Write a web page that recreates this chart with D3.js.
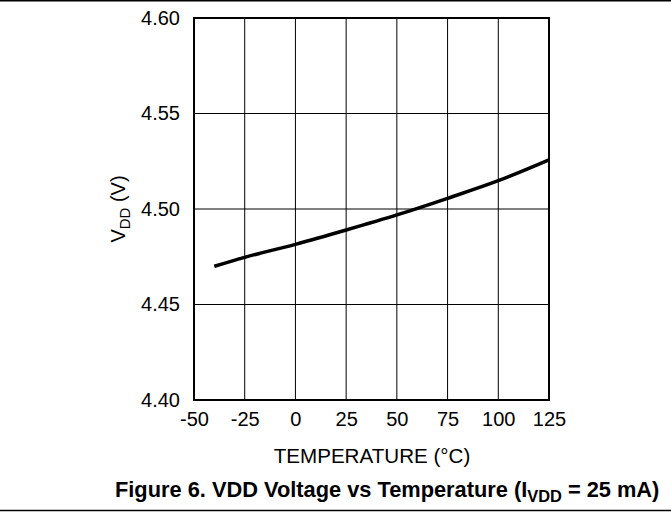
<!DOCTYPE html>
<html><head><meta charset="utf-8">
<script src="https://cdn.jsdelivr.net/npm/d3@7"></script>
<style>body{margin:0;background:#fff}svg{display:block}text{font-family:"Liberation Sans",Arial,sans-serif;fill:#000}</style>
</head><body>
<svg id="c" width="671" height="516"></svg>
<script>
const temps = [-40, -25, 0, 25, 50, 75, 100, 125];
const vdd = [4.4700, 4.4747, 4.4815, 4.4890, 4.4969, 4.5056, 4.5148, 4.5257];
const xTicks = [-50, -25, 0, 25, 50, 75, 100, 125];
const yTicks = [4.40, 4.45, 4.50, 4.55, 4.60];

const svg = d3.select("#c");
const W = 671, H = 516;
const m = {l:194, r:549, t:18, b:400};
const x = d3.scaleLinear().domain([-50,125]).range([m.l, m.r]);
const y = d3.scaleLinear().domain([4.40,4.60]).range([m.b, m.t]);
const FF = "Liberation Sans, Arial, sans-serif";

// page rules
svg.append("line").attr("x1",0).attr("x2",W).attr("y1",0.75).attr("y2",0.75).attr("stroke","#000").attr("stroke-width",1.5);
svg.append("line").attr("x1",0).attr("x2",W).attr("y1",510.5).attr("y2",510.5).attr("stroke","#000").attr("stroke-width",1.5);

// grid
const g = svg.append("g");
g.selectAll("line.v").data(xTicks).join("line")
  .attr("x1",d=>x(d)).attr("x2",d=>x(d)).attr("y1",m.t).attr("y2",m.b)
  .attr("stroke","#000").attr("stroke-width",1);
g.selectAll("line.h").data(yTicks).join("line")
  .attr("x1",m.l).attr("x2",m.r).attr("y1",d=>y(d)).attr("y2",d=>y(d))
  .attr("stroke","#000").attr("stroke-width",1);
svg.append("rect").attr("x",m.l).attr("y",m.t).attr("width",m.r-m.l).attr("height",m.b-m.t)
  .attr("fill","none").attr("stroke","#000").attr("stroke-width",2);

// tick labels via d3 axes
const xAxis = d3.axisBottom(x).tickValues(xTicks).tickSize(0).tickPadding(12).tickFormat(d=>String(d));
const xa = svg.append("g").attr("transform",`translate(0,${m.b})`).call(xAxis);
xa.select(".domain").remove();
xa.selectAll("text").attr("font-size",20).attr("font-family",FF).attr("fill","#000");

const yAxis = d3.axisLeft(y).tickValues(yTicks).tickSize(0).tickPadding(14).tickFormat(d3.format(".2f"));
const ya = svg.append("g").attr("transform",`translate(${m.l},0)`).call(yAxis);
ya.select(".domain").remove();
ya.selectAll("text").attr("font-size",20).attr("font-family",FF).attr("fill","#000");

// curve
const line = d3.line().x((d,i)=>x(temps[i])).y(d=>y(d)).curve(d3.curveMonotoneX);
svg.append("path").datum(vdd).attr("d",line).attr("fill","none").attr("stroke","#000").attr("stroke-width",3.5);

// axis titles
svg.append("text").attr("x",(m.l+m.r)/2+0.5).attr("y",463).attr("text-anchor","middle").attr("font-size",20.6).text("TEMPERATURE (°C)");
const yl = svg.append("text").attr("transform",`translate(125,${(m.t+m.b)/2}) rotate(-90)`).attr("text-anchor","middle").attr("font-size",20);
yl.append("tspan").text("V");
yl.append("tspan").attr("font-size",15).attr("dy",5).text("DD");
yl.append("tspan").attr("dy",-5).text(" (V)");

// figure title
const t = svg.append("text").attr("x",115).attr("y",497).attr("text-anchor","start").attr("font-size",21.8).attr("font-weight","bold");
t.append("tspan").text("Figure 6. VDD Voltage vs Temperature (I");
t.append("tspan").attr("font-size",16.4).attr("dy",5).text("VDD");
t.append("tspan").attr("dy",-5).text(" = 25 mA)");
</script>
</body></html>
